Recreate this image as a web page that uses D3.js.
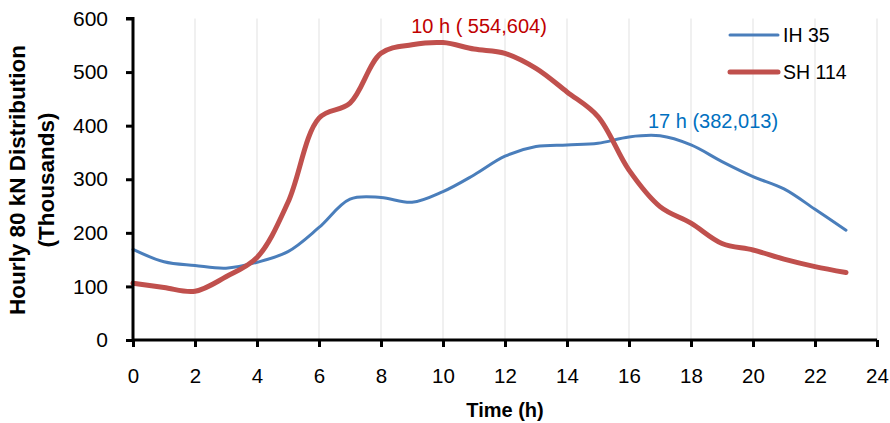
<!DOCTYPE html>
<html><head><meta charset="utf-8">
<script src="https://cdn.jsdelivr.net/npm/d3@7"></script>
<style>body{margin:0;background:#fff}svg{display:block}text{font-family:"Liberation Sans",Arial,sans-serif}</style>
</head><body><svg id="c" width="890" height="423"></svg>
<script>
const hours = d3.range(0, 24);
const ih35 = [169,146,139,134,145,165,210,263,266,257,277,308,343,361,364,367,379,381,364,333,305,282,244,205];
const sh114 = [106,98,91,118,154,257,414,442,535,551,555,543,535,507,463,417,317,249,218,180,168,151,137,126];
const xTicks = d3.range(0, 25, 2);
const yTicks = [0,100,200,300,400,500,600];
const seriesNames = ["IH 35","SH 114"];
const annotations = [{text:"10 h ( 554,604)", h:10, v:554.604, series:1},{text:"17 h (382,013)", h:17, v:382.013, series:0}];

const svg = d3.select("#c");
const x = d3.scaleLinear().domain([0,24]).range([133,877]);
const y = d3.scaleLinear().domain([0,600]).range([340,18.5]);
const colors = ["#4a7ebb","#c0504d"];
const widths = [3,5];
const labelColors = ["#0070c0","#c00000"];
const FF = "'Liberation Sans',Arial,sans-serif";

// gridlines
svg.append("g").selectAll("line").data(xTicks.filter(d=>d>0)).join("line")
  .attr("x1",d=>x(d)).attr("x2",d=>x(d)).attr("y1",y(600)).attr("y2",y(0))
  .attr("stroke","#ebebeb").attr("stroke-width",1.5);

// lines
const line = d3.line().x((d,i)=>x(hours[i])).y(d=>y(d)).curve(d3.curveCatmullRom.alpha(0.5));
[ih35, sh114].forEach((s,k)=>{
  svg.append("path").attr("d",line(s)).attr("fill","none").attr("stroke",colors[k])
    .attr("stroke-width",widths[k]).attr("stroke-linecap","round").attr("stroke-linejoin","round");
});

// axes
const xa = svg.append("g").attr("transform",`translate(0,${y(0)})`)
  .call(d3.axisBottom(x).tickValues(xTicks).tickSize(7).tickPadding(21).tickFormat(d3.format("d")));
const ya = svg.append("g").attr("transform",`translate(${x(0)},0)`)
  .call(d3.axisLeft(y).tickValues(yTicks).tickSize(7).tickPadding(18).tickFormat(d3.format("d")));
[xa,ya].forEach(a=>{
  a.attr("font-family",FF);
  a.select(".domain").attr("stroke","#000").attr("stroke-width",3);
  a.selectAll(".tick line").attr("stroke","#000").attr("stroke-width",3);
  a.selectAll(".tick text").attr("fill","#000");
});
xa.attr("font-size",20.5);
ya.attr("font-size",21);
ya.select(".domain").attr("d",`M-7,${y(600)}H0V${y(0)}`);
xa.select(".domain").attr("d",`M${x(0)},0H${x(24)}`);

// axis titles
svg.append("text").attr("x",(x(0)+x(24))/2).attr("y",417).attr("text-anchor","middle")
  .attr("font-size",20).attr("font-weight","bold").text("Time (h)");
const yt = svg.append("text").attr("transform","translate(0,180) rotate(-90)").attr("text-anchor","middle")
  .attr("font-size",22.5).attr("font-weight","bold");
yt.append("tspan").attr("x",0).attr("y",25).text("Hourly 80 kN Distribution");
yt.append("tspan").attr("x",0).attr("y",54).text("(Thousands)");

// annotations
const offs = [[53,-7.5],[36,-10]];
annotations.forEach(a=>{
  const o = offs[a.series];
  svg.append("text").attr("x", x(a.h)+o[0]).attr("y", y(a.v)+o[1])
    .attr("text-anchor","middle").attr("fill",labelColors[a.series])
    .attr("font-size",20).text(a.text);
});

// legend
const lg = svg.append("g");
seriesNames.forEach((n,k)=>{
  const yy = 35 + k*37;
  lg.append("line").attr("x1",730).attr("x2",778).attr("y1",yy).attr("y2",yy)
    .attr("stroke",colors[k]).attr("stroke-width",widths[k]).attr("stroke-linecap","round");
  lg.append("text").attr("x",783).attr("y",yy).attr("dy","0.35em").attr("font-size",19.5).text(n);
});
</script></body></html>
